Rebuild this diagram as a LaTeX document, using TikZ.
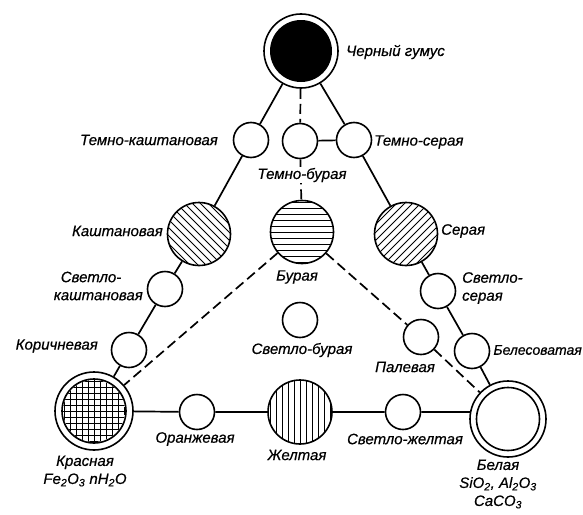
\documentclass[tikz,border=0pt]{standalone}
\usepackage{fontspec}
\setmainfont{Liberation Sans}[ItalicFeatures={FakeBold=0.5}]
\usetikzlibrary{backgrounds}

\begin{document}
\begin{tikzpicture}[x=1pt,y=-1pt,
  ring/.style={circle,draw,line width=1.6pt,fill=white,inner sep=0pt},
  small/.style={ring,minimum size=35pt},
  big/.style={ring,minimum size=63pt},
  hatch/.style={line width=0.9pt},
  % hatch fills, clipped to the circle by path picture
  backhatch/.style={path picture={\foreach \i in {-48,-40,...,48}
      \draw[hatch] ([shift={(\i-40,-40)}]path picture bounding box.center) -- ++(80,80);}},
  fwdhatch/.style={path picture={\foreach \i in {-48,-40,...,48}
      \draw[hatch] ([shift={(\i-40,40)}]path picture bounding box.center) -- ++(80,-80);}},
  horhatch/.style={path picture={\foreach \i in {-30,-24,...,30}
      \draw[hatch] ([shift={(-40,\i)}]path picture bounding box.center) -- ++(80,0);}},
  verhatch/.style={path picture={\foreach \i in {-30,-24,...,30}
      \draw[hatch] ([shift={(\i,-40)}]path picture bounding box.center) -- ++(0,80);}},
  lbl/.style={font=\itshape\fontsize{15}{18}\selectfont,inner sep=0pt},
  link/.style={line width=1.7pt},
  dlink/.style={line width=1.7pt,dash pattern=on 10pt off 5pt}
]
\useasboundingbox (0,0) rectangle (583,514);

% apex: black humus
\node[ring,minimum size=74pt,path picture={\fill[black] (path picture bounding box.center) circle (31pt);}]
  (top) at (301,51) {};

% second row
\node[small] (tk) at (251,140) {};
\node[small] (tb) at (300,141) {};
\node[small] (ts) at (354,140) {};

% third row
\node[big,backhatch] (kash) at (199,234) {};
\node[big,horhatch]  (bur)  at (302,232) {};
\node[big,fwdhatch]  (ser)  at (406,234) {};

% intermediate soils
\node[small] (svk)  at (165,289) {};
\node[small] (svs)  at (438,291) {};
\node[small] (svb)  at (300,320) {};
\node[small] (kor)  at (129,350) {};
\node[small] (pal)  at (421,337) {};
\node[small] (bels) at (472,351) {};

% base of the triangle
\node[ring,minimum size=78pt,path picture={
    \draw[line width=1.6pt] (path picture bounding box.center) circle (32pt);
    \clip (path picture bounding box.center) circle (31pt);
    \foreach \i in {-30,-24,...,30}{
      \draw[line width=0.8pt] ([shift={(-40,\i)}]path picture bounding box.center) -- ++(80,0);
      \draw[line width=0.8pt] ([shift={(\i,-40)}]path picture bounding box.center) -- ++(0,80);}}]
  (kras) at (94,411) {};
\node[small] (oran) at (197,412) {};
\node[big,minimum size=64pt,verhatch] (zhel) at (300,412) {};
\node[small] (svzh) at (403,412) {};
\node[ring,minimum size=76pt,path picture={
    \draw[line width=1.6pt] (path picture bounding box.center) circle (31.5pt);}]
  (bel) at (508,419) {};

% connectors
\begin{scope}[on background layer]
  \draw[link] (top) -- (tk) -- (kash) -- (svk) -- (kor) -- (kras);
  \draw[link] (top) -- (ts) -- (ser) -- (svs) -- (bels) -- (bel);
  \draw[link] (tb) -- (ts);
  \draw[link] (kras) -- (oran) -- (zhel) -- (svzh) -- (svzh -| bel);
  \draw[dlink] (top) -- (tb) -- (bur);
  \draw[dlink] (bur) -- (kras);
  \draw[dlink] (bur) -- (pal) -- (bel);
\end{scope}

% labels
\node[lbl,anchor=west] (l-top) at (346,52) {Черный гумус};
\node[lbl,anchor=east] (l-tk) at (218,140) {Темно-каштановая};
\node[lbl,fill=white,inner sep=1pt] (l-tb) at (302,175) {Темно-бурая};
\node[lbl,anchor=west] (l-ts) at (374,142) {Темно-серая};
\node[lbl,anchor=east] (l-kash) at (163,231) {Каштановая};
\node[lbl] (l-bur) at (297,277) {Бурая};
\node[lbl,anchor=west] (l-ser) at (441,231) {Серая};
\node[lbl,anchor=east,align=left] (l-svk) at (143,286) {\hspace*{7pt}Светло-\\каштановая};
\node[lbl,anchor=west,align=left] (l-svs) at (462,288) {Светло-\\серая};
\node[lbl,anchor=east] (l-kor) at (98,346) {Коричневая};
\node[lbl] (l-svb) at (302,350) {Светло-бурая};
\node[lbl] (l-pal) at (405,367) {Палевая};
\node[lbl,anchor=east,font=\itshape\fontsize{14}{18}\selectfont] (l-bels) at (582,350) {Белесоватая};
\node[lbl,align=center] (l-kras) at (85,471) {Красная\\Fe\textsubscript{2}O\textsubscript{3} nH\textsubscript{2}O};
\node[lbl] (l-oran) at (195,439) {Оранжевая};
\node[lbl] (l-zhel) at (297,455) {Желтая};
\node[lbl] (l-svzh) at (405,439) {Светло-желтая};
\node[lbl,align=center] (l-bel) at (498,484) {Белая\\SiO\textsubscript{2}, Al\textsubscript{2}O\textsubscript{3}\\CaCO\textsubscript{3}};
\end{tikzpicture}
\end{document}
